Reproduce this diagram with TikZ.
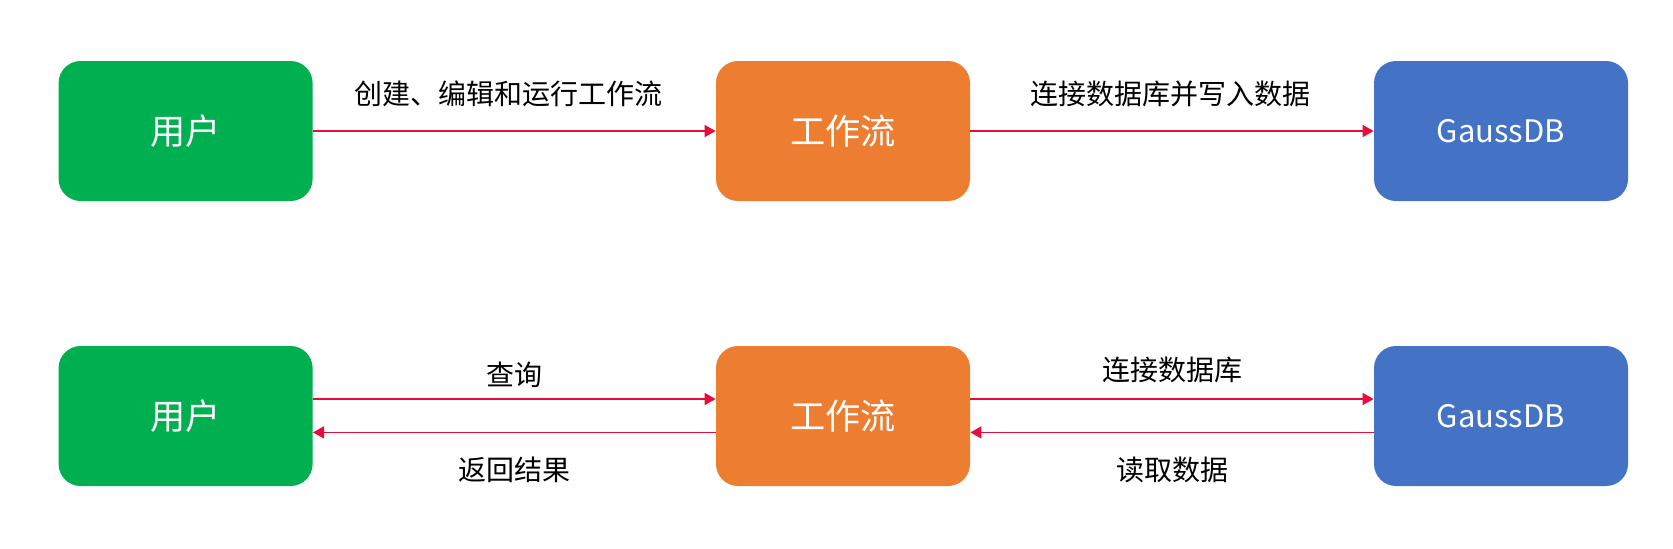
\documentclass[tikz,border=0pt]{standalone}
\usepackage{fontspec}
\setmainfont{Noto Sans CJK SC}
\usetikzlibrary{arrows.meta}
\definecolor{boxgreen}{RGB}{0,176,80}
\definecolor{boxorange}{RGB}{237,125,49}
\definecolor{boxblue}{RGB}{68,114,196}
\definecolor{arrowred}{RGB}{232,12,60}
\tikzset{
  box/.style={rounded corners=11pt, minimum width=127pt, minimum height=70pt, inner sep=0pt, text=white, font=\fontsize{17.6pt}{21pt}\selectfont},
  greenbox/.style={box, fill=boxgreen},
  orangebox/.style={box, fill=boxorange},
  bluebox/.style={box, fill=boxblue, font=\fontsize{15.5pt}{19pt}\selectfont},
  conn/.style={draw=arrowred, line width=0.75pt, -{Triangle[length=5.5pt,width=6pt]}},
  lbl/.style={font=\fontsize{14pt}{17pt}\selectfont, text=black, inner sep=0pt}
}
\begin{document}
\begin{tikzpicture}[x=0.5pt,y=-0.5pt]
\useasboundingbox[fill=white] (0,0) rectangle (1673,548);
% top row
\node[greenbox]  (u1) at (185.6,131) {用户};
\node[orangebox] (w1) at (843,131) {工作流};
\node[bluebox]   (g1) at (1501,131) {GaussDB};
\draw[conn] (u1.east) -- (w1.west) node[lbl, midway, yshift=18.5pt, xshift=-3pt] {创建、编辑和运行工作流};
\draw[conn] (w1.east) -- (g1.west) node[lbl, midway, yshift=18.5pt, xshift=-1pt] {连接数据库并写入数据};
% bottom row
\node[greenbox]  (u2) at (185.6,416) {用户};
\node[orangebox] (w2) at (843,416) {工作流};
\node[bluebox]   (g2) at (1501,416) {GaussDB};
\draw[conn] ([yshift=8.5pt]u2.east) -- ([yshift=8.5pt]w2.west) node[lbl, midway, yshift=12pt] {查询};
\draw[conn] ([yshift=-8.2pt]w2.west) -- ([yshift=-8.2pt]u2.east) node[lbl, midway, yshift=-18.5pt] {返回结果};
\draw[conn] ([yshift=8.5pt]w2.east) -- ([yshift=8.5pt]g2.west) node[lbl, midway, yshift=14.5pt] {连接数据库};
\draw[conn] ([yshift=-8.2pt]g2.west) -- ([yshift=-8.2pt]w2.east) node[lbl, midway, yshift=-18.5pt] {读取数据};
\end{tikzpicture}
\end{document}
